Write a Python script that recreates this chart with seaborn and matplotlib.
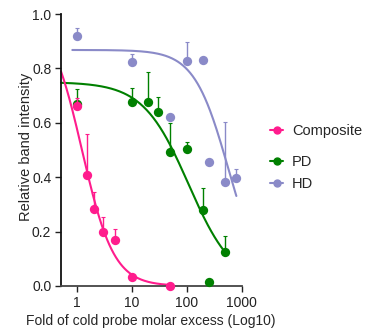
import numpy as np
import pandas as pd
import matplotlib
matplotlib.use("Agg")
import matplotlib.pyplot as plt
import seaborn as sns
from matplotlib.lines import Line2D

# ---- data ----
comp_x = [1, 1.5, 2, 3, 5, 10, 50]
comp_y = [0.662, 0.408, 0.282, 0.200, 0.169, 0.034, 0.0]
comp_err = [0.03, 0.15, 0.065, 0.053, 0.04, 0.0, 0.0]

pd_x = [1, 10, 20, 30, 50, 100, 200, 250, 500]
pd_y = [0.669, 0.675, 0.678, 0.640, 0.494, 0.502, 0.278, 0.014, 0.124]
pd_err = [0.054, 0.054, 0.108, 0.055, 0.105, 0.028, 0.082, 0.0, 0.06]

hd_x = [1, 10, 50, 100, 200, 250, 500, 800]
hd_y = [0.919, 0.822, 0.620, 0.828, 0.832, 0.455, 0.382, 0.396]
hd_err = [0.031, 0.031, 0.0, 0.069, 0.0, 0.0, 0.222, 0.036]

# fitted dose-response parameters: top, bottom, logIC50, hill, x-range
comp_fit = [1.0, 0.0, 0.09, 1.5, 0.51, 50]
pd_fit = [0.75, 0.0, 2.03, 1.05, 0.51, 500]
hd_fit = [0.868, 0.0, 2.753, 1.4, 0.82, 800]

series = ["Composite", "PD", "HD"]
colors = {"Composite": "#FF1C8D", "PD": "#008000", "HD": "#8A8AC8"}

xlabel = "Fold of cold probe molar excess (Log10)"
ylabel = "Relative band intensity"

sns.set_style("ticks")
plt.rcParams["font.family"] = ["Liberation Sans", "DejaVu Sans"]

fig = plt.figure(figsize=(3.8, 3.35), dpi=100)
ax = fig.add_axes([0.1605, 0.1463, 0.4755, 0.8117])

def curve(params, name):
    top, bottom, L, h, x0, x1 = params
    xs = np.logspace(np.log10(x0), np.log10(x1), 200)
    ys = bottom + (top - bottom) / (1 + 10 ** ((np.log10(xs) - L) * h))
    return pd.DataFrame({"x": xs, "y": ys, "s": name})

curves = pd.concat([curve(hd_fit, "HD"), curve(pd_fit, "PD"), curve(comp_fit, "Composite")])
sns.lineplot(data=curves, x="x", y="y", hue="s", palette=colors, lw=1.5,
             legend=False, ax=ax, sort=False, estimator=None, clip_on=False)

for name, xs, ys, es, z in [("HD", hd_x, hd_y, hd_err, 3),
                            ("PD", pd_x, pd_y, pd_err, 4),
                            ("Composite", comp_x, comp_y, comp_err, 5)]:
    c = colors[name]
    xe = [x for x, e in zip(xs, es) if e > 0]
    ye = [y for y, e in zip(ys, es) if e > 0]
    ee = [e for e in es if e > 0]
    ax.errorbar(xe, ye, yerr=[np.zeros(len(ee)), ee], fmt="none", ecolor=c,
                elinewidth=1.0, capsize=1.5, capthick=0.8, zorder=z)
    df = pd.DataFrame({"x": xs, "y": ys})
    sns.scatterplot(data=df, x="x", y="y", color=c, s=45, edgecolor=c,
                    linewidth=0, ax=ax, zorder=z + 0.5, clip_on=False)

ax.set_xscale("log")
ax.set_xlim(0.51, 1000)
ax.set_ylim(0, 1.0)
ax.set_xticks([1, 10, 100, 1000])
ax.set_xticklabels(["1", "10", "100", "1000"])
ax.xaxis.set_minor_locator(matplotlib.ticker.NullLocator())
ax.set_yticks([0, 0.2, 0.4, 0.6, 0.8, 1.0])
ax.set_yticklabels(["0.0", "0.2", "0.4", "0.6", "0.8", "1.0"])
ax.tick_params(labelsize=10, length=4, width=1.0, pad=3, colors="#222222")
ax.spines["left"].set_linewidth(1.3)
ax.spines["bottom"].set_linewidth(1.3)
ax.spines["bottom"].set_color("#444444")
ax.spines["left"].set_color("#111111")
sns.despine(ax=ax)
ax.set_xlabel(xlabel, fontsize=10)
ax.set_ylabel(ylabel, fontsize=10.5)
ax.xaxis.set_label_coords(0.497, -0.103)
ax.yaxis.set_label_coords(-0.153, 0.513)

def handle(name):
    return Line2D([0], [0], color=colors[name], marker="o", markersize=5, lw=1.5)

leg1 = fig.legend([handle("Composite")], ["Composite"], loc="center left",
                  bbox_to_anchor=(270 / 380, 1 - 131.5 / 335), frameon=False,
                  fontsize=10.5, handlelength=0.9, handletextpad=0.6,
                  borderpad=0, borderaxespad=0)
fig.legend([handle("PD"), handle("HD")], ["PD", "HD"], loc="center left",
           bbox_to_anchor=(270 / 380, 1 - 173 / 335), frameon=False,
           fontsize=10.5, handlelength=0.9, handletextpad=0.6, labelspacing=0.55,
           borderpad=0, borderaxespad=0)

fig.savefig("out.png", dpi=100)
